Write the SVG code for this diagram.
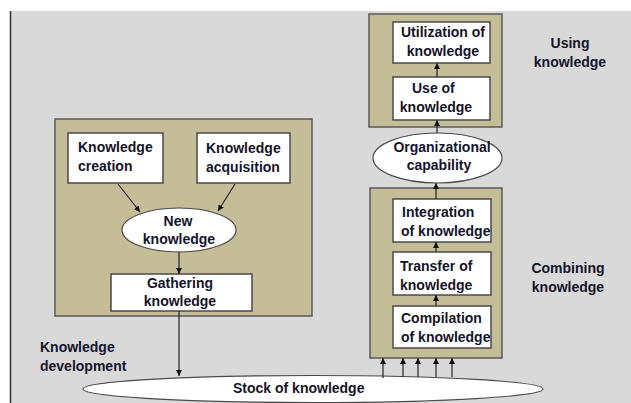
<svg xmlns="http://www.w3.org/2000/svg" width="631" height="403" viewBox="0 0 631 403">
  <defs>
    <marker id="arr" viewBox="0 0 10 10" refX="10" refY="5" markerWidth="6" markerHeight="6" markerUnits="userSpaceOnUse" orient="auto">
      <path d="M0,0 L10,5 L0,10 z" fill="#111"/>
    </marker>
    <style>
      .panel { fill: #c5bd98; stroke: #5a5a5a; stroke-width: 1.5; }
      .box { fill: #ffffff; stroke: #4a4a4a; stroke-width: 1.5; }
      .oval { fill: #ffffff; stroke: #4a4a4a; stroke-width: 1.2; }
      .lbl { font-family: "Liberation Sans", Arial, sans-serif; font-weight: bold; font-size: 14px; fill: #14142a; }
      .mid { text-anchor: middle; }
      .link { stroke: #222; stroke-width: 1.2; fill: none; marker-end: url(#arr); }
    </style>
  </defs>

  <!-- page background -->
  <rect x="0" y="0" width="631" height="403" fill="#ffffff"/>
  <rect x="10" y="11" width="621" height="392" fill="#d9d9d9"/>
  <line x1="10.5" y1="11" x2="10.5" y2="403" stroke="#333" stroke-width="1.5"/>

  <!-- knowledge development panel -->
  <g id="development-panel">
    <rect class="panel" x="55" y="119" width="257" height="197"/>
  </g>
  <g id="knowledge-creation">
    <rect class="box" x="68" y="133" width="95" height="50"/>
    <text class="lbl" x="78" y="152">Knowledge</text>
    <text class="lbl" x="78" y="171">creation</text>
  </g>
  <g id="knowledge-acquisition">
    <rect class="box" x="197" y="133" width="93" height="50"/>
    <text class="lbl" x="206" y="153">Knowledge</text>
    <text class="lbl" x="206" y="172">acquisition</text>
  </g>
  <g id="new-knowledge">
    <ellipse class="oval" cx="179" cy="230" rx="57" ry="22"/>
    <text class="lbl mid" x="178" y="226">New</text>
    <text class="lbl mid" x="179" y="244">knowledge</text>
  </g>
  <g id="gathering-knowledge">
    <rect class="box" x="111" y="274" width="141" height="37"/>
    <text class="lbl mid" x="180" y="288">Gathering</text>
    <text class="lbl mid" x="180" y="306">knowledge</text>
  </g>

  <!-- using knowledge panel -->
  <g id="using-panel">
    <rect class="panel" x="369" y="14" width="133" height="113"/>
  </g>
  <g id="utilization">
    <rect class="box" x="393" y="22" width="97" height="41"/>
    <text class="lbl mid" x="443" y="37">Utilization of</text>
    <text class="lbl mid" x="443" y="56">knowledge</text>
  </g>
  <g id="use">
    <rect class="box" x="393" y="77" width="97" height="43"/>
    <text class="lbl" x="412" y="93">Use of</text>
    <text class="lbl mid" x="436" y="112">knowledge</text>
  </g>
  <g id="organizational-capability">
    <ellipse class="oval" cx="437.5" cy="158" rx="64.5" ry="25"/>
    <text class="lbl mid" x="442" y="152">Organizational</text>
    <text class="lbl mid" x="439" y="170">capability</text>
  </g>

  <!-- combining knowledge panel -->
  <g id="combining-panel">
    <rect class="panel" x="370" y="188" width="132" height="170"/>
  </g>
  <g id="integration">
    <rect class="box" x="393" y="199" width="98" height="43"/>
    <text class="lbl" x="402" y="217">Integration</text>
    <text class="lbl" x="401" y="236">of knowledge</text>
  </g>
  <g id="transfer">
    <rect class="box" x="393" y="252" width="98" height="43"/>
    <text class="lbl" x="400" y="271">Transfer of</text>
    <text class="lbl" x="400" y="290">knowledge</text>
  </g>
  <g id="compilation">
    <rect class="box" x="393" y="306" width="98" height="42"/>
    <text class="lbl" x="401" y="323">Compilation</text>
    <text class="lbl" x="401" y="342">of knowledge</text>
  </g>

  <!-- stock -->
  <g id="stock">
    <ellipse class="oval" cx="313" cy="389" rx="230" ry="13.5"/>
    <text class="lbl" x="233" y="393">Stock of knowledge</text>
  </g>

  <!-- side labels -->
  <g id="label-using">
    <text class="lbl mid" x="570" y="48">Using</text>
    <text class="lbl mid" x="570" y="67">knowledge</text>
  </g>
  <g id="label-combining">
    <text class="lbl mid" x="568" y="273">Combining</text>
    <text class="lbl mid" x="568" y="292">knowledge</text>
  </g>
  <g id="label-development">
    <text class="lbl" x="40" y="352">Knowledge</text>
    <text class="lbl" x="40" y="371">development</text>
  </g>

  <!-- connectors -->
  <g id="connectors">
    <line class="link" x1="118" y1="184" x2="140" y2="212"/>
    <line class="link" x1="235" y1="184" x2="218" y2="211"/>
    <line class="link" x1="179" y1="252" x2="179" y2="274"/>
    <line class="link" x1="179" y1="311" x2="179" y2="376"/>
    <line class="link" x1="436" y1="306" x2="436" y2="295"/>
    <line class="link" x1="436" y1="252" x2="436" y2="242"/>
    <line class="link" x1="436" y1="199" x2="436" y2="183"/>
    <line class="link" x1="437" y1="133" x2="437" y2="120"/>
    <line class="link" x1="437" y1="77" x2="437" y2="63"/>
    <line class="link" x1="383" y1="378" x2="383" y2="358"/>
    <line class="link" x1="403" y1="377" x2="403" y2="358"/>
    <line class="link" x1="418" y1="377" x2="418" y2="358"/>
    <line class="link" x1="436" y1="377" x2="436" y2="358"/>
    <line class="link" x1="452" y1="377" x2="452" y2="358"/>
  </g>
</svg>
